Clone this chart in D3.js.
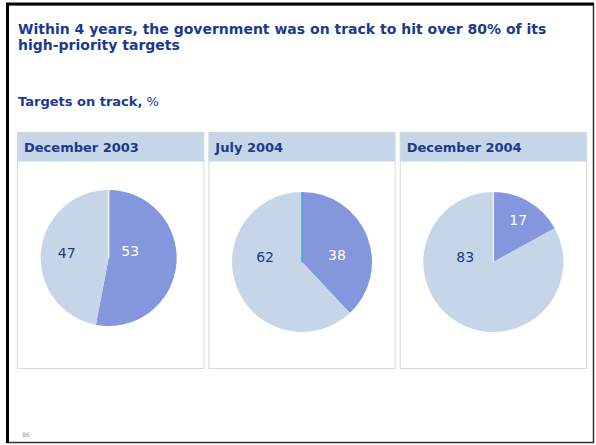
<!DOCTYPE html>
<html>
<head>
<meta charset="utf-8">
<script src="https://cdn.jsdelivr.net/npm/d3@7"></script>
<style>
  body { margin: 0; background: #fff; }
  svg { display: block; font-family: "DejaVu Sans", Verdana, sans-serif; }
</style>
</head>
<body>
<svg id="chart" width="596" height="445"></svg>
<script>
// chart data
const periods = ["December 2003", "July 2004", "December 2004"];
const onTrack = [53, 38, 17];
const notOnTrack = [47, 62, 83];

const navy = "#1b3a8c";
const darkSlice = "#8496dc";
const lightSlice = "#c6d6e8";

const svg = d3.select("#chart");

// outer frame
svg.append("rect")
  .attr("x", 7.5).attr("y", 4.5)
  .attr("width", 586).attr("height", 438)
  .attr("fill", "#fff")
  .attr("stroke", "#333")
  .attr("stroke-width", 1.5);
svg.append("line").attr("x1", 7.5).attr("x2", 7.5).attr("y1", 3).attr("y2", 443)
  .attr("stroke", "#000").attr("stroke-width", 3);
svg.append("line").attr("x1", 6).attr("x2", 594).attr("y1", 4).attr("y2", 4)
  .attr("stroke", "#000").attr("stroke-width", 3);

// title
const title = svg.append("text")
  .attr("x", 18).attr("y", 34)
  .attr("fill", navy)
  .style("font-size", "14px")
  .style("font-weight", "bold");
title.append("tspan").attr("x", 18).text("Within 4 years, the government was on track to hit over 80% of its");
title.append("tspan").attr("x", 18).attr("dy", 16).text("high-priority targets");

const sub = svg.append("text")
  .attr("x", 18).attr("y", 106)
  .attr("fill", navy)
  .style("font-size", "13px");
sub.append("tspan").style("font-weight", "bold").text("Targets on track,");
sub.append("tspan").text(" %");

// panels laid out with a band scale
const x = d3.scaleBand()
  .domain(periods)
  .range([17, 587])
  .paddingInner(0.021)
  .paddingOuter(0);

const panelTop = 132, headerH = 29, panelBottom = 368;

const pie = d3.pie().sort(null).value(d => d);

periods.forEach((p, i) => {
  const g = svg.append("g").attr("transform", `translate(${x(p)},0)`);
  const w = x.bandwidth();

  g.append("rect")
    .attr("x", 0.5).attr("y", panelTop + 0.5)
    .attr("width", w - 1).attr("height", panelBottom - panelTop)
    .attr("fill", "#fff")
    .attr("stroke", "#d6d9dd");
  g.append("rect")
    .attr("x", 0.5).attr("y", panelTop + 0.5)
    .attr("width", w - 1).attr("height", headerH)
    .attr("fill", lightSlice);
  g.append("text")
    .attr("x", 7).attr("y", panelTop + 20)
    .attr("fill", navy)
    .style("font-size", "13px")
    .style("font-weight", "bold")
    .text(p);

  const r = i === 0 ? 68 : 70;
  const cy = i === 0 ? 258 : 262;
  const cx = i === 0 ? w / 2 - 2 : w / 2;
  const pg = g.append("g").attr("transform", `translate(${cx},${cy})`);

  const arcs = pie([onTrack[i], notOnTrack[i], 0]);
  const arc = d3.arc().innerRadius(0).outerRadius(r);

  pg.selectAll("path")
    .data(arcs)
    .join("path")
    .attr("d", arc)
    .attr("fill", (d, j) => j === 0 ? darkSlice : lightSlice)
    .attr("stroke", (d, j) => j === 2 ? (i === 1 ? "#3fa9c0" : "#eef2f8") : "none")
    .attr("stroke-width", 1.5);

  // labels, placed roughly the way the original slide did
  const labelArc = d3.arc().innerRadius(r * 0.7).outerRadius(r * 0.7);
  const onShare = onTrack[i] / (onTrack[i] + notOnTrack[i]);
  const labelPos = (d, j) => {
    if (j === 0) {
      if (onShare < 0.3) return labelArc.centroid(d);
      // centre of the slice's bounding box horizontally
      const xs = [0, r, Math.sin(d.endAngle) * r];
      return [(d3.min(xs) + d3.max(xs)) / 2 - (onShare > 0.5 ? 6 : 0), -r * 0.1];
    }
    return [-r * (0.3 + 0.6 * onShare), -r * 0.07];
  };

  pg.selectAll("text")
    .data(arcs.slice(0, 2))
    .join("text")
    .attr("x", (d, j) => labelPos(d, j)[0])
    .attr("y", (d, j) => labelPos(d, j)[1])
    .attr("dy", "0.35em")
    .attr("text-anchor", "middle")
    .attr("fill", (d, j) => j === 0 ? "#fff" : navy)
    .style("font-size", "14px")
    .text(d => d.data);
});

svg.append("text")
  .attr("x", 22).attr("y", 437)
  .attr("fill", "#999")
  .style("font-size", "6px")
  .text("86");
</script>
</body>
</html>
